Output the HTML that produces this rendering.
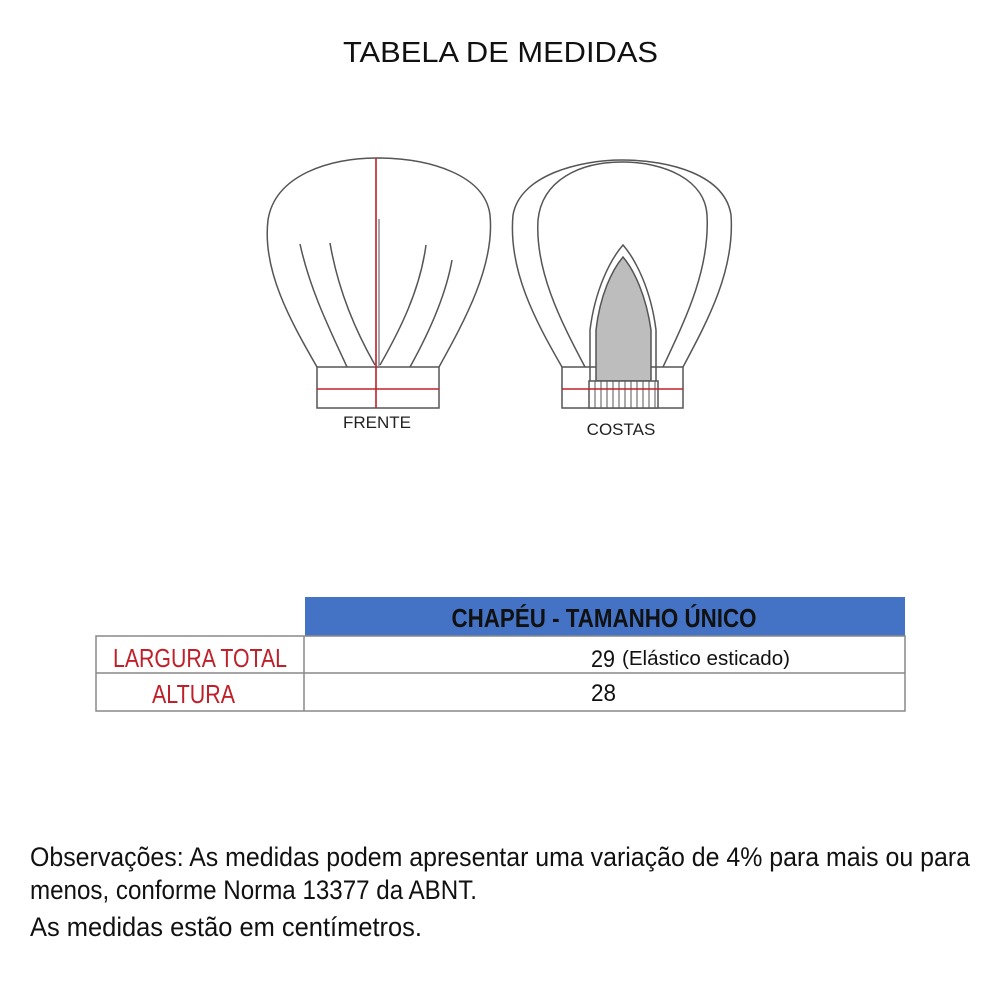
<!DOCTYPE html>
<html><head><meta charset="utf-8"><style>html,body{margin:0;padding:0;background:#fff}svg{display:block}</style></head>
<body>
<svg width="1000" height="1000" viewBox="0 0 1000 1000" xmlns="http://www.w3.org/2000/svg" font-family="'Liberation Sans Narrow','Liberation Sans',sans-serif">
<rect width="1000" height="1000" fill="#fff"/>
<text x="343" y="62" font-size="29" fill="#111" textLength="315" lengthAdjust="spacingAndGlyphs">TABELA DE MEDIDAS</text>

<g fill="none" stroke="#555" stroke-width="1.5">
<!-- front -->
<path d="M317,367 C290,320 262,270 268,220 C275,175 330,158 376,158 C430,158 485,175 490,215 C495,265 465,320 439,367"/>
<rect x="317" y="367" width="122" height="41"/>
<path d="M300,244 C310,290 330,330 347,367"/>
<path d="M330,243 C338,290 355,330 375,365"/>
<path d="M426,245 C420,290 400,330 380,365"/>
<path d="M452,260 C445,300 425,340 410,367"/>
<line x1="379" y1="219" x2="379" y2="367" stroke="#888"/>
<!-- back -->
<path d="M562,367 C535,320 508,270 513,215 C520,175 580,160 622,160 C670,160 725,175 731,215 C735,270 708,320 683,367"/>
<path d="M585,367 C560,320 535,270 538,220 C542,180 580,162 622,162 C665,162 705,180 707,215 C710,270 685,320 663,367"/>
<rect x="562" y="367" width="121" height="41"/>
<path d="M590,381 L590,330 C595,290 610,260 623,245 C636,260 651,290 656,330 L656,381"/>
<path d="M596,381 L596,330 C600,295 612,270 623,257 C634,270 646,295 651,330 L651,381 Z" fill="#bdbdbd"/>
<rect x="589" y="381" width="69" height="27" fill="#fff"/>
</g>
<g stroke="#555" stroke-width="1">
<line x1="595" y1="381" x2="595" y2="408"/><line x1="601" y1="381" x2="601" y2="408"/><line x1="607" y1="381" x2="607" y2="408"/><line x1="613" y1="381" x2="613" y2="408"/><line x1="619" y1="381" x2="619" y2="408"/><line x1="625" y1="381" x2="625" y2="408"/><line x1="631" y1="381" x2="631" y2="408"/><line x1="637" y1="381" x2="637" y2="408"/><line x1="643" y1="381" x2="643" y2="408"/><line x1="649" y1="381" x2="649" y2="408"/><line x1="655" y1="381" x2="655" y2="408"/>
</g>
<g stroke="#c0202a" stroke-width="1.6">
<line x1="376" y1="158" x2="376" y2="408"/>
<line x1="317" y1="389" x2="439" y2="389"/>
<line x1="562" y1="389" x2="683" y2="389"/>
</g>
<text x="377" y="428" font-family="'Liberation Sans',sans-serif" font-size="17" fill="#222" text-anchor="middle">FRENTE</text>
<text x="621" y="435" font-family="'Liberation Sans',sans-serif" font-size="17" fill="#222" text-anchor="middle">COSTAS</text>

<!-- table -->
<rect x="305" y="597" width="600" height="39" fill="#4472c4"/>
<g fill="none" stroke="#888" stroke-width="1.5">
<rect x="96" y="636" width="809" height="75"/>
<line x1="96" y1="673" x2="905" y2="673"/>
<line x1="304" y1="636" x2="304" y2="711"/>
</g>
<text x="604" y="627" font-size="26" font-weight="bold" fill="#111" text-anchor="middle" textLength="305" lengthAdjust="spacingAndGlyphs">CHAPÉU - TAMANHO ÚNICO</text>
<text x="113" y="667" font-size="26" fill="#c0202a" textLength="174" lengthAdjust="spacingAndGlyphs">LARGURA TOTAL</text>
<text x="152" y="703" font-size="26" fill="#c0202a" textLength="83" lengthAdjust="spacingAndGlyphs">ALTURA</text>
<text x="591" y="667" font-size="24" fill="#111" textLength="24" lengthAdjust="spacingAndGlyphs">29</text>
<text x="622" y="665" font-size="20" fill="#111" textLength="168" lengthAdjust="spacingAndGlyphs">(Elástico esticado)</text>
<text x="591" y="701" font-size="24" fill="#111" textLength="25" lengthAdjust="spacingAndGlyphs">28</text>

<g font-size="27" fill="#111">
<text x="30" y="866" textLength="940" lengthAdjust="spacingAndGlyphs">Observações: As medidas podem apresentar uma variação de 4% para mais ou para</text>
<text x="30" y="899" textLength="447" lengthAdjust="spacingAndGlyphs">menos, conforme Norma 13377 da ABNT.</text>
<text x="30" y="936" textLength="392" lengthAdjust="spacingAndGlyphs">As medidas estão em centímetros.</text>
</g>
</svg>
</body></html>
